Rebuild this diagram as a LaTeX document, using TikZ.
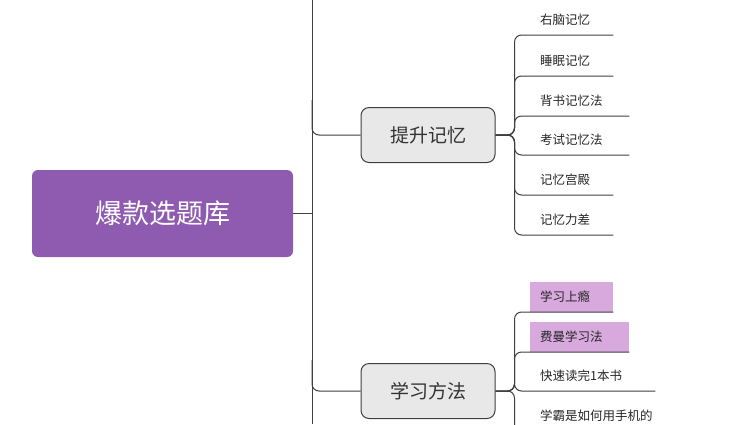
\documentclass[tikz,border=0pt]{standalone}
\usepackage{fontspec}
\setmainfont{Noto Sans CJK SC}
\definecolor{rootpurple}{HTML}{8E5BB0}
\definecolor{hlpurple}{HTML}{D7A9DD}
\definecolor{linegray}{HTML}{3F3F3F}
\begin{document}
\begin{tikzpicture}[
       x=1pt, y=-1pt,
       root/.style={rectangle, fill=rootpurple, text=white, rounded corners=6pt, minimum width=261, minimum height=87, font=\fontsize{27}{30}\selectfont},
       branch/.style={rectangle, draw=linegray, line width=1pt, fill=gray!18, rounded corners=8pt, minimum width=134, minimum height=55, font=\fontsize{19}{22}\selectfont, text=black!80},
       leaf/.style={anchor=south west, inner xsep=10pt, inner ysep=0pt, minimum height=30, text width=#1-20, align=left, font=\fontsize{12.5}{14}\selectfont, text=black!85},
       hl/.style={fill=hlpurple},
       link/.style={draw=linegray, line width=1pt, rounded corners=7pt}
   ]
   \useasboundingbox (0,0) rectangle (754,424);
   \node[root] (root) at (162.5,213.5) {爆款选题库};
   \node[branch] (mem) at (428,135) {提升记忆};
   \node[branch] (study) at (428,391) {学习方法};

   \node[leaf=83] (m1) at (530,35) {右脑记忆};
   \node[leaf=83] (m2) at (530,76) {睡眠记忆};
   \node[leaf=99] (m3) at (530,116) {背书记忆法};
   \node[leaf=99] (m4) at (530,155) {考试记忆法};
   \node[leaf=83] (m5) at (530,195) {记忆宫殿};
   \node[leaf=83] (m6) at (530,235) {记忆力差};

   \node[leaf=83, hl] (s1) at (530,312) {学习上瘾};
   \node[leaf=99, hl] (s2) at (530,352) {费曼学习法};
   \node[leaf=125] (s3) at (530,391) {快速读完1本书};
   \node[leaf=160] (s4) at (530,431) {学霸是如何用手机的};

   \coordinate (top) at (312,0);
   \coordinate (bottom) at (312,424);
   \draw[link] (top) -- (bottom);
   \draw[link] (root.east) -- (top |- root.east);
   \draw[link] (312,100) |- (mem.west);
   \draw[link] (312,360) |- (study.west);

   \foreach \leafname in {m1,m2,m3,m4,m5,m6}
     \draw[link] (mem.east) -- ++(19,0) |- (\leafname.south west) -- (\leafname.south east);
   \foreach \leafname in {s1,s2,s3,s4}
     \draw[link] (study.east) -- ++(19,0) |- (\leafname.south west) -- (\leafname.south east);
\end{tikzpicture}
\end{document}
